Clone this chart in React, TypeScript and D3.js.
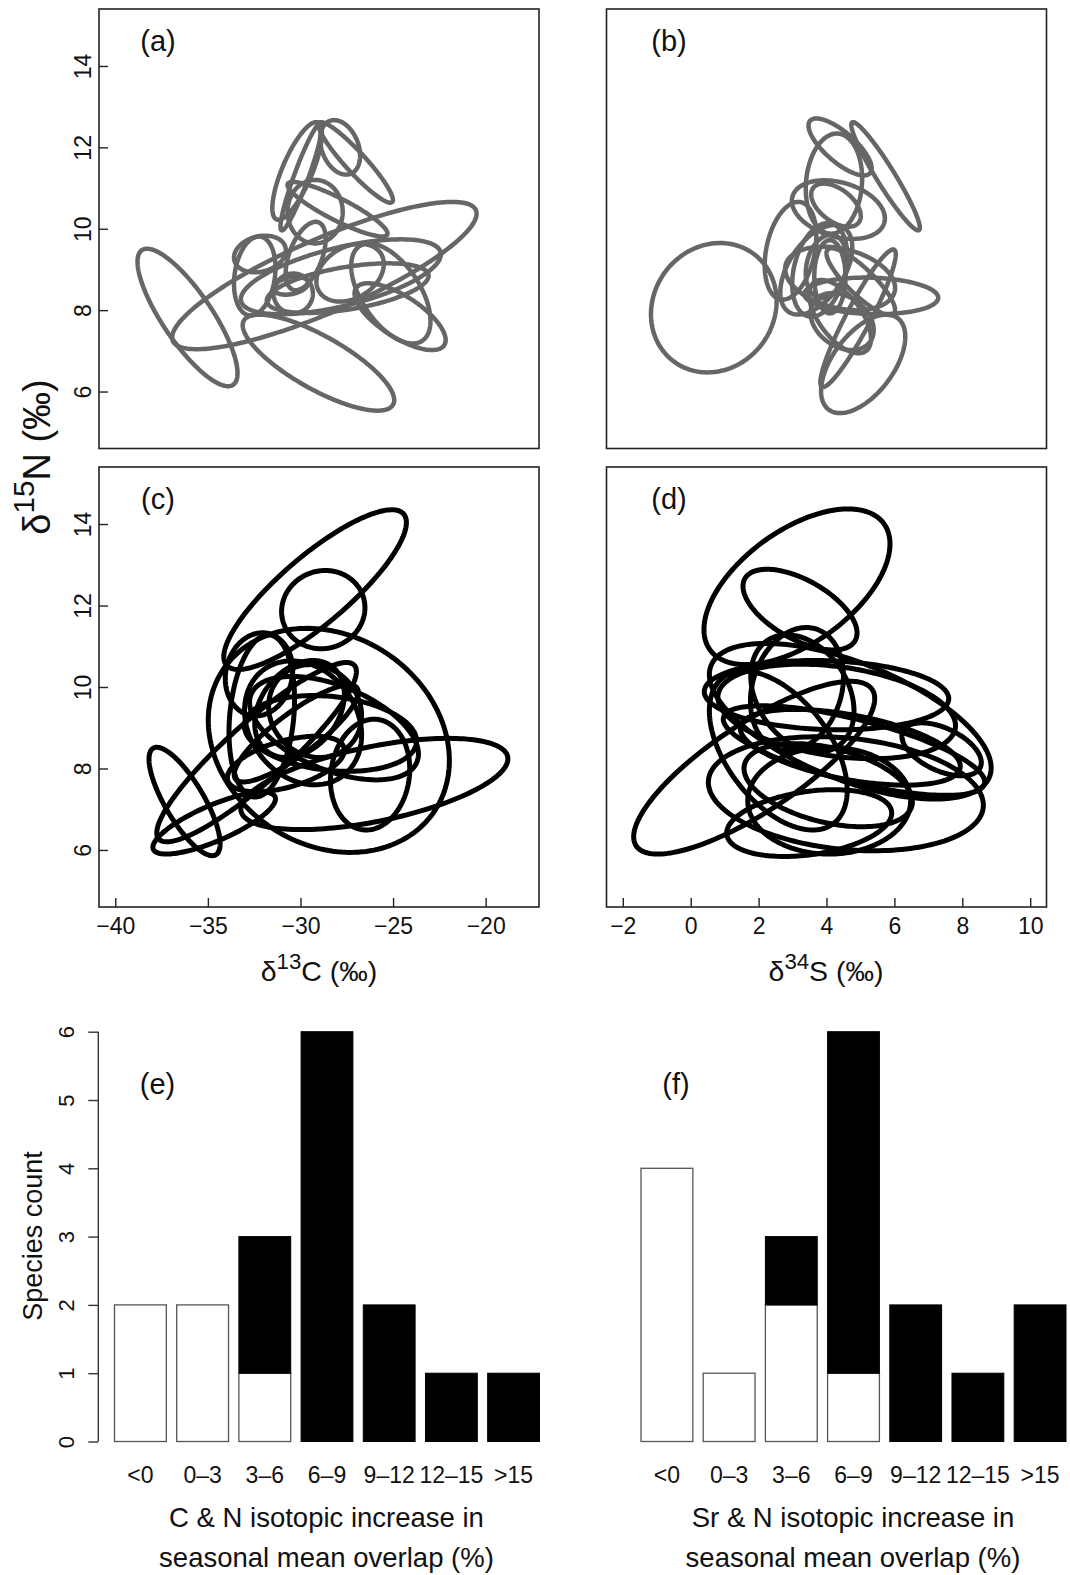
import React, { useEffect, useRef } from 'react';
import * as d3 from 'd3';

type Ell = [number, number, number, number, number];

// seasonal ellipses: centre x, centre y, half range x, half range y, correlation
const ellipsesA: Ell[] = [
  [-36.10, 7.82, 2.70, 1.69, -0.81],
  [-28.71, 8.85, 8.22, 1.81, 0.84],
  [-27.82, 8.82, 5.40, 0.92, 0.6],
  [-29.03, 6.71, 4.09, 1.18, -0.78],
  [-25.12, 8.41, 2.14, 1.23, -0.55],
  [-24.62, 7.84, 2.46, 0.82, -0.7],
  [-27.32, 8.92, 1.82, 0.71, 0.3],
  [-27.02, 11.63, 2.01, 0.99, -0.93],
  [-27.86, 12.0, 1.08, 0.67, -0.3],
  [-30.18, 11.42, 1.34, 1.2, 0.76],
  [-29.96, 11.28, 1.12, 1.32, 0.93],
  [-29.21, 10.42, 1.49, 0.78, 0.0],
  [-28.0, 10.48, 2.7, 0.67, -0.89],
  [-29.72, 9.33, 1.08, 0.84, 0.5],
  [-32.19, 9.38, 1.4, 0.45, 0.2],
  [-32.47, 8.84, 1.12, 0.97, 0.2],
  [-30.39, 8.41, 1.06, 0.49, 0.0],
  [-30.52, 8.6, 0.93, 0.22, 0.3],
  [-27.45, 8.54, 4.37, 0.61, 0.5],
];

const ellipsesB: Ell[] = [
  [0.68, 8.06, 1.85, 1.59, 0.1],
  [2.94, 9.46, 0.76, 1.2, 0.3],
  [5.08, 6.68, 1.24, 1.21, 0.55],
  [4.93, 7.8, 1.11, 1.69, 0.93],
  [5.32, 8.35, 1.97, 0.45, -0.1],
  [5.74, 11.29, 1.01, 1.33, -0.95],
  [4.4, 12.01, 0.93, 0.7, -0.75],
  [4.22, 11.11, 0.83, 1.23, 0.1],
  [4.35, 10.47, 1.37, 0.72, -0.3],
  [4.28, 10.58, 0.73, 0.53, -0.5],
  [3.7, 8.99, 1.06, 1.1, 0.5],
  [4.0, 9.07, 0.61, 0.78, 0.2],
  [4.1, 8.82, 0.46, 0.9, 0.0],
  [4.4, 8.78, 1.62, 0.78, -0.3],
  [5.01, 8.7, 1.01, 0.82, -0.85],
  [4.46, 7.72, 0.93, 0.7, -0.3],
  [4.4, 7.84, 0.91, 0.9, -0.6],
  [3.8, 8.99, 0.81, 1.15, 0.3],
];

const ellipsesC: Ell[] = [
  [-29.21, 12.39, 4.93, 1.96, 0.84],
  [-28.77, 11.9, 2.25, 0.96, 0.05],
  [-36.26, 7.19, 1.92, 1.33, -0.78],
  [-34.66, 6.66, 3.31, 0.76, 0.78],
  [-32.37, 8.4, 5.39, 2.2, 0.9],
  [-28.47, 8.69, 6.51, 2.75, -0.18],
  [-26.01, 7.62, 7.21, 1.12, 0.55],
  [-26.24, 7.85, 2.14, 1.36, 0.1],
  [-32.24, 10.31, 1.82, 1.02, 0.1],
  [-29.86, 9.12, 3.16, 1.52, -0.2],
  [-30.05, 9.46, 2.42, 1.19, 0.3],
  [-28.38, 8.86, 4.65, 0.93, -0.2],
  [-28.19, 8.99, 4.56, 1.27, -0.5],
  [-32.09, 9.29, 1.77, 1.99, 0.2],
  [-30.23, 8.86, 3.35, 1.19, 0.85],
  [-29.21, 9.41, 2.51, 1.14, -0.1],
  [-30.79, 8.11, 3.16, 0.68, 0.5],
];

const ellipsesD: Ell[] = [
  [3.13, 12.46, 2.74, 1.91, 0.55],
  [3.22, 11.9, 1.68, 0.99, -0.58],
  [1.87, 8.02, 3.55, 2.12, 0.8],
  [4.57, 7.38, 4.05, 1.4, -0.2],
  [3.49, 6.66, 2.43, 0.82, 0.3],
  [4.08, 7.21, 2.4, 1.31, 0.0],
  [4.0, 9.8, 3.6, 0.85, -0.1],
  [4.3, 9.4, 3.5, 1.16, -0.3],
  [4.7, 9.16, 4.15, 1.91, -0.6],
  [7.39, 8.47, 1.17, 0.65, -0.5],
  [3.29, 9.84, 1.52, 1.44, -0.3],
  [3.13, 9.95, 1.37, 1.51, 0.2],
  [4.7, 8.52, 3.24, 0.93, -0.5],
  [4.81, 8.44, 3.85, 1.1, -0.7],
  [4.05, 7.59, 2.48, 1.02, -0.4],
  [2.58, 8.44, 2.03, 1.95, -0.5],
];

const carbonLim = [-40.88, -17.12];
const sulfurLim = [-2.48, 10.48];
const nitrogenLim = [4.6, 15.4];
const nitrogenTicks = [6, 8, 10, 12, 14];
const carbonTicks = [-40, -35, -30, -25, -20];
const sulfurTicks = [-2, 0, 2, 4, 6, 8, 10];

const binLabels = ['<0', '0\u20133', '3\u20136', '6\u20139', '9\u201312', '12\u201315', '>15'];
const cnWhite = [2, 2, 1, 0, 0, 0, 0];
const cnBlack = [0, 0, 2, 6, 2, 1, 1];
const srWhite = [4, 1, 2, 1, 0, 0, 0];
const srBlack = [0, 0, 1, 5, 2, 1, 2];
const countTicks = [0, 1, 2, 3, 4, 5, 6];

const FONT = "'Liberation Sans', Arial, Helvetica, sans-serif";
const fmt = (d: number) => (d < 0 ? '\u2212' + Math.abs(d) : String(d));

const App = () => {
  const ref = useRef<SVGSVGElement>(null);

  useEffect(() => {
    const svg = d3.select(ref.current);
    svg.selectAll('*').remove();
    svg.append('rect').attr('width', 1070).attr('height', 1575).attr('fill', '#fff');

    const panels = [
      { tag: '(a)', ells: ellipsesA, xLim: carbonLim, xTicks: carbonTicks, xr: [99, 539], yr: [448.5, 9], tagX: 158, col: '#666', sw: 4.5, yAx: true, xAx: false },
      { tag: '(b)', ells: ellipsesB, xLim: sulfurLim, xTicks: sulfurTicks, xr: [606.5, 1046.5], yr: [448.5, 9], tagX: 669, col: '#666', sw: 4.5, yAx: false, xAx: false },
      { tag: '(c)', ells: ellipsesC, xLim: carbonLim, xTicks: carbonTicks, xr: [99, 539], yr: [907, 467], tagX: 158, col: '#000', sw: 5, yAx: true, xAx: true },
      { tag: '(d)', ells: ellipsesD, xLim: sulfurLim, xTicks: sulfurTicks, xr: [606.5, 1046.5], yr: [907, 467], tagX: 669, col: '#000', sw: 5, yAx: false, xAx: true },
    ];

    panels.forEach(p => {
      const x = d3.scaleLinear().domain(p.xLim).range(p.xr);
      const y = d3.scaleLinear().domain(nitrogenLim).range(p.yr);
      const g = svg.append('g');

      const line = d3.line().curve(d3.curveLinearClosed);
      g.selectAll('path.ell')
        .data(p.ells)
        .enter()
        .append('path')
        .attr('class', 'ell')
        .attr('d', ([cx, cy, sx, sy, r]) => {
          const q = Math.sqrt(1 - r * r);
          const pts = d3.range(0, 2 * Math.PI, Math.PI / 90).map(t => [
            x(cx + sx * Math.cos(t)),
            y(cy + sy * (r * Math.cos(t) + q * Math.sin(t))),
          ] as [number, number]);
          return line(pts);
        })
        .attr('fill', 'none')
        .attr('stroke', p.col)
        .attr('stroke-width', p.sw);

      g.append('rect')
        .attr('x', p.xr[0]).attr('y', p.yr[1])
        .attr('width', p.xr[1] - p.xr[0]).attr('height', p.yr[0] - p.yr[1])
        .attr('fill', 'none').attr('stroke', '#222').attr('stroke-width', 1.6);

      if (p.yAx) {
        const ax = g.append('g')
          .attr('transform', `translate(${p.xr[0]},0)`)
          .call(d3.axisLeft(y).tickValues(nitrogenTicks).tickSizeInner(-9).tickSizeOuter(0));
        ax.select('.domain').remove();
        ax.selectAll('line').attr('stroke', '#222').attr('stroke-width', 1.4);
        ax.selectAll('text')
          .attr('x', 0).attr('y', 0).attr('dy', null)
          .attr('transform', 'translate(-8,0) rotate(-90)')
          .attr('text-anchor', 'middle')
          .attr('font-size', 23).attr('font-family', FONT).attr('fill', '#111');
      }
      if (p.xAx) {
        const ax = g.append('g')
          .attr('transform', `translate(0,${p.yr[0]})`)
          .call(d3.axisBottom(x).tickValues(p.xTicks).tickFormat(d => fmt(+d)).tickSizeInner(-9).tickSizeOuter(0));
        ax.select('.domain').remove();
        ax.selectAll('line').attr('stroke', '#222').attr('stroke-width', 1.4);
        ax.selectAll('text')
          .attr('y', 27).attr('dy', null)
          .attr('font-size', 23).attr('font-family', FONT).attr('fill', '#111');
      }

      g.append('text')
        .attr('x', p.tagX).attr('y', p.yr[1] + 42)
        .attr('text-anchor', 'middle')
        .attr('font-size', 29).attr('font-family', FONT).attr('fill', '#111')
        .text(p.tag);
    });

    // isotope axis titles
    const iso = (tx: number, ty: number, sup: string, el: string, rot: boolean, size: number) => {
      const t = svg.append('text')
        .attr('transform', `translate(${tx},${ty})${rot ? ' rotate(-90)' : ''}`)
        .attr('text-anchor', 'middle')
        .attr('font-size', size).attr('font-family', FONT).attr('fill', '#111');
      t.append('tspan').text('\u03b4');
      t.append('tspan').attr('dy', -size * 0.42).attr('font-size', size * 0.78).text(sup);
      t.append('tspan').attr('dy', size * 0.42).text(`${el} (\u2030)`);
    };
    iso(319, 981, '13', 'C', false, 28.5);
    iso(826, 981, '34', 'S', false, 28.5);
    iso(50, 457, '15', 'N', true, 38);

    // histograms
    const yc = d3.scaleLinear().domain([0, 6]).range([1441.5, 1031.7]);
    const hists = [
      { tag: '(e)', white: cnWhite, black: cnBlack, x0: 114.5, tagX: 157.5, title: 'C & N isotopic increase in' },
      { tag: '(f)', white: srWhite, black: srBlack, x0: 641, tagX: 676, title: 'Sr & N isotopic increase in' },
    ];
    hists.forEach((h, k) => {
      const xb = d3.scaleBand().domain(binLabels).range([h.x0, h.x0 + 425]).paddingInner(1 / 6).paddingOuter(0);
      const g = svg.append('g');
      g.selectAll('rect.w')
        .data(binLabels.filter((_, i) => h.white[i] > 0))
        .enter()
        .append('rect')
        .attr('x', d => xb(d)!)
        .attr('width', xb.bandwidth())
        .attr('y', d => yc(h.white[binLabels.indexOf(d)]))
        .attr('height', d => yc(0) - yc(h.white[binLabels.indexOf(d)]))
        .attr('fill', '#fff').attr('stroke', '#555').attr('stroke-width', 1.3);
      g.selectAll('rect.b')
        .data(binLabels.filter((_, i) => h.black[i] > 0))
        .enter()
        .append('rect')
        .attr('x', d => xb(d)!)
        .attr('width', xb.bandwidth())
        .attr('y', d => {
          const i = binLabels.indexOf(d);
          return yc(h.white[i] + h.black[i]);
        })
        .attr('height', d => {
          const i = binLabels.indexOf(d);
          return yc(h.white[i]) - yc(h.white[i] + h.black[i]);
        })
        .attr('fill', '#000').attr('stroke', '#000').attr('stroke-width', 1);

      const ax = g.append('g')
        .attr('transform', 'translate(0,1483)')
        .call(d3.axisBottom(xb).tickSize(0));
      ax.select('.domain').remove();
      ax.selectAll('text')
        .attr('y', 0).attr('dy', null)
        .attr('font-size', 23).attr('font-family', FONT).attr('fill', '#111');

      if (k === 0) {
        const ay = g.append('g')
          .attr('transform', 'translate(98.3,0)')
          .call(d3.axisLeft(yc).tickValues(countTicks).tickFormat(d3.format('d')).tickSizeInner(10).tickSizeOuter(0));
        ay.select('.domain').attr('stroke', '#333').attr('stroke-width', 1.4).attr('d', `M0,${yc(0)}V${yc(6)}`);
        ay.selectAll('line').attr('stroke', '#333').attr('stroke-width', 1.4);
        ay.selectAll('text')
          .attr('x', 0).attr('y', 0).attr('dy', null)
          .attr('transform', 'translate(-24.8,0) rotate(-90)')
          .attr('text-anchor', 'middle')
          .attr('font-size', 22).attr('font-family', FONT).attr('fill', '#111');
        g.append('text')
          .attr('transform', 'translate(42,1236) rotate(-90)')
          .attr('text-anchor', 'middle')
          .attr('font-size', 27).attr('font-family', FONT).attr('fill', '#111')
          .text('Species count');
      }

      g.append('text')
        .attr('x', h.tagX).attr('y', 1094)
        .attr('text-anchor', 'middle')
        .attr('font-size', 29).attr('font-family', FONT).attr('fill', '#111')
        .text(h.tag);

      const cx = h.x0 + 212;
      g.append('text')
        .attr('x', cx).attr('y', 1527)
        .attr('text-anchor', 'middle')
        .attr('font-size', 27.5).attr('font-family', FONT).attr('fill', '#111')
        .text(h.title);
      g.append('text')
        .attr('x', cx).attr('y', 1567)
        .attr('text-anchor', 'middle')
        .attr('font-size', 27.5).attr('font-family', FONT).attr('fill', '#111')
        .text('seasonal mean overlap (%)');
    });
  }, []);

  return (
    <svg
      ref={ref}
      width={1070}
      height={1575}
      style={{ position: 'absolute', left: 0, top: 0, display: 'block' }}
    />
  );
};

export default App;
